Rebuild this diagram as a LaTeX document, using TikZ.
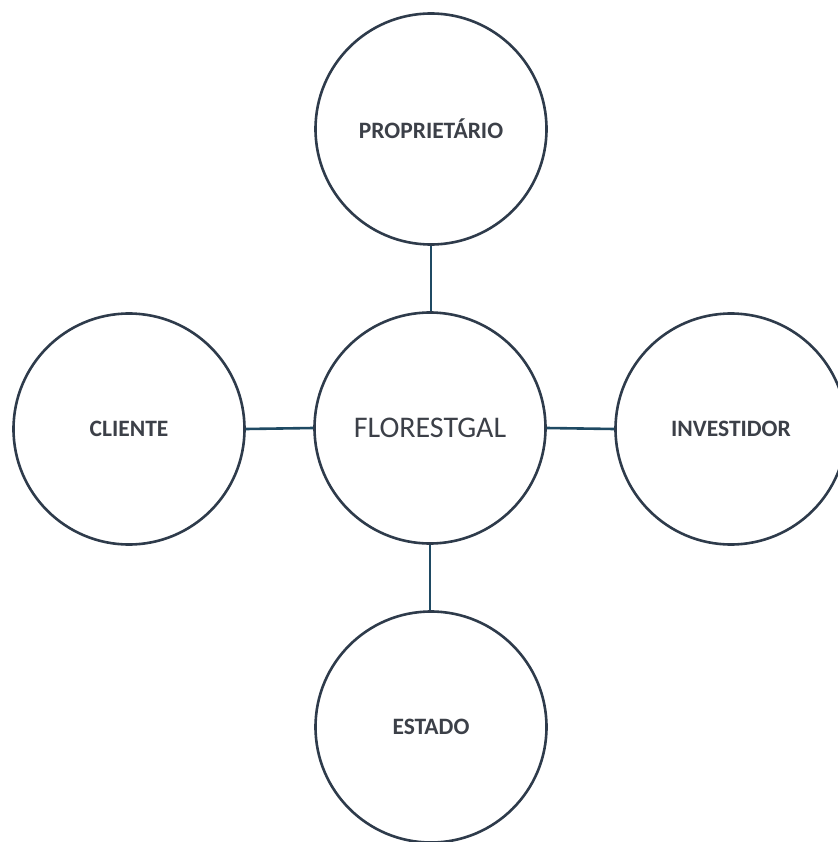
\documentclass[tikz,border=0pt]{standalone}
\usepackage{fontspec}
\setmainfont{Carlito}
\definecolor{ringcol}{HTML}{2E3B4B}
\definecolor{linkcol}{HTML}{1F4A63}
\definecolor{txtcol}{HTML}{3C4048}
\begin{document}
\begin{tikzpicture}[x=1pt,y=-1pt,
  ring/.style={circle,draw=ringcol,line width=2.6pt,minimum size=231pt,inner sep=0pt,
    text=txtcol,font=\fontsize{23.5}{25}\selectfont\bfseries},
  hub/.style={ring,font=\fontsize{30}{32}\selectfont},
  link/.style={draw=linkcol,line width=2.6pt}]
\useasboundingbox (0,0) rectangle (837,842);
\node[hub]  (c) at (430,428) {FLORESTGAL};
\node[ring] (t) at (431,129) {PROPRIETÁRIO};
\node[ring] (l) at (129,429) {CLIENTE};
\node[ring] (r) at (731,429) {INVESTIDOR};
\node[ring] (b) at (431,727) {ESTADO};
\draw[link] (t.south) -- (t.south |- c.north);
\draw[link] (l.east) -- (c.west);
\draw[link] (c.east) -- (r.west);
\draw[link] (c.south) -- (c.south |- b.north);
\end{tikzpicture}
\end{document}
